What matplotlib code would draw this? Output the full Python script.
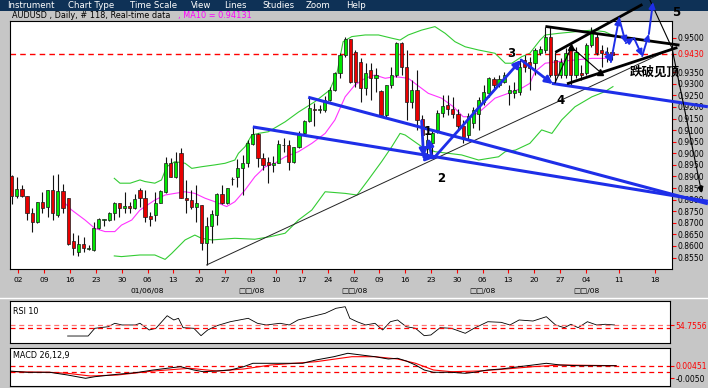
import matplotlib
matplotlib.use("Agg")
import matplotlib.pyplot as plt
import matplotlib.transforms as mtransforms
from matplotlib.patches import Rectangle
from matplotlib.lines import Line2D
import numpy as np

plt.rcParams['font.family'] = ['DejaVu Sans', 'Noto Sans CJK SC']

W, H = 708, 388

# ---------------- daily candles (AUDUSD) ----------------
opens = [0.8902, 0.8816, 0.8845, 0.8816, 0.8741, 0.8705, 0.8789, 0.8770, 0.8842, 0.8734,
         0.8837, 0.8806, 0.8623, 0.8575, 0.8608, 0.8588, 0.8583, 0.8676, 0.8712, 0.8712,
         0.8744, 0.8787, 0.8763, 0.8773, 0.8763, 0.8842, 0.8806, 0.8729, 0.8734, 0.8787,
         0.8834, 0.8957, 0.8899, 0.9000, 0.8808, 0.8798, 0.8767, 0.8777, 0.8614, 0.8686,
         0.8734, 0.8824, 0.8784, 0.8887, 0.8896, 0.8935, 0.8960, 0.9040, 0.9083, 0.8979,
         0.8964, 0.8950, 0.8960, 0.9036, 0.9036, 0.8964, 0.9026, 0.9086, 0.9140, 0.9190,
         0.9189, 0.9187, 0.9230, 0.9273, 0.9346, 0.9425, 0.9492, 0.9439, 0.9396, 0.9281,
         0.9360, 0.9324, 0.9269, 0.9165, 0.9295, 0.9338, 0.9475, 0.9374, 0.9223, 0.9273,
         0.9147, 0.9022, 0.9043, 0.9101, 0.9175, 0.9209, 0.9190, 0.9170, 0.9118, 0.9079,
         0.9130, 0.9170, 0.9223, 0.9262, 0.9320, 0.9295, 0.9309, 0.9262, 0.9262, 0.9266,
         0.9403, 0.9394, 0.9390, 0.9433, 0.9446, 0.9502, 0.9403, 0.9338, 0.9338, 0.9459,
         0.9338, 0.9347, 0.9347, 0.9468, 0.9502, 0.9446, 0.9433, 0.9438]
highs = [0.8906, 0.8896, 0.8863, 0.8816, 0.8763, 0.8791, 0.8832, 0.8842, 0.8906, 0.8911,
         0.8868, 0.8806, 0.8655, 0.8647, 0.8640, 0.8604, 0.8705, 0.8719, 0.8718, 0.8748,
         0.8791, 0.8787, 0.8832, 0.8791, 0.8823, 0.8849, 0.8842, 0.8748, 0.8834, 0.8842,
         0.8985, 0.8979, 0.9007, 0.9024, 0.8885, 0.8842, 0.8863, 0.8777, 0.8726, 0.8755,
         0.8827, 0.8863, 0.8850, 0.8899, 0.8974, 0.8993, 0.9058, 0.9115, 0.9089, 0.9003,
         0.8985, 0.8988, 0.9058, 0.9065, 0.9058, 0.9027, 0.9096, 0.9144, 0.9242, 0.9219,
         0.9209, 0.9248, 0.9288, 0.9352, 0.9432, 0.9504, 0.9495, 0.9446, 0.9410, 0.9389,
         0.9389, 0.9367, 0.9273, 0.9295, 0.9374, 0.9482, 0.9482, 0.9446, 0.9317, 0.9360,
         0.9165, 0.9088, 0.9101, 0.9187, 0.9252, 0.9252, 0.9244, 0.9190, 0.9144, 0.9173,
         0.9201, 0.9244, 0.9295, 0.9328, 0.9328, 0.9338, 0.9352, 0.9295, 0.9309, 0.9403,
         0.9425, 0.9416, 0.9455, 0.9463, 0.9545, 0.9545, 0.9438, 0.9412, 0.9455, 0.9476,
         0.9459, 0.9381, 0.9476, 0.9545, 0.9520, 0.9468, 0.9459, 0.9446]
lows = [0.8780, 0.8808, 0.8813, 0.8712, 0.8662, 0.8700, 0.8741, 0.8726, 0.8712, 0.8726,
        0.8741, 0.8604, 0.8561, 0.8557, 0.8575, 0.8583, 0.8580, 0.8673, 0.8688, 0.8708,
        0.8712, 0.8726, 0.8741, 0.8741, 0.8760, 0.8770, 0.8705, 0.8686, 0.8709, 0.8784,
        0.8830, 0.8898, 0.8892, 0.8807, 0.8744, 0.8758, 0.8705, 0.8583, 0.8518, 0.8614,
        0.8690, 0.8781, 0.8781, 0.8863, 0.8856, 0.8820, 0.8942, 0.9036, 0.8942, 0.8928,
        0.8871, 0.8921, 0.8957, 0.9007, 0.8928, 0.8960, 0.9022, 0.9079, 0.9136, 0.9118,
        0.9174, 0.9180, 0.9227, 0.9270, 0.9324, 0.9417, 0.9302, 0.9288, 0.9223, 0.9252,
        0.9230, 0.9266, 0.9158, 0.9158, 0.9281, 0.9331, 0.9338, 0.9144, 0.9194, 0.9101,
        0.9014, 0.8984, 0.8980, 0.9088, 0.9158, 0.9165, 0.9151, 0.9101, 0.9043, 0.9058,
        0.9108, 0.9101, 0.9209, 0.9244, 0.9281, 0.9288, 0.9302, 0.9209, 0.9238, 0.9252,
        0.9351, 0.9273, 0.9338, 0.9425, 0.9433, 0.9330, 0.9304, 0.9325, 0.9325, 0.9295,
        0.9325, 0.9317, 0.9338, 0.9459, 0.9425, 0.9373, 0.9394, 0.9403]
closes = [0.8817, 0.8845, 0.8816, 0.8741, 0.8705, 0.8789, 0.8763, 0.8842, 0.8741, 0.8837,
          0.8763, 0.8608, 0.8590, 0.8608, 0.8592, 0.8592, 0.8676, 0.8715, 0.8716, 0.8744,
          0.8787, 0.8763, 0.8773, 0.8763, 0.8803, 0.8806, 0.8726, 0.8716, 0.8787, 0.8837,
          0.8957, 0.8899, 0.8964, 0.8808, 0.8798, 0.8767, 0.8787, 0.8614, 0.8686, 0.8738,
          0.8824, 0.8784, 0.8849, 0.8888, 0.8935, 0.8960, 0.9046, 0.9082, 0.8979, 0.8950,
          0.8950, 0.8960, 0.9039, 0.9034, 0.8964, 0.9026, 0.9079, 0.9140, 0.9194, 0.9189,
          0.9191, 0.9230, 0.9273, 0.9346, 0.9425, 0.9492, 0.9309, 0.9309, 0.9281, 0.9346,
          0.9324, 0.9338, 0.9165, 0.9295, 0.9338, 0.9475, 0.9374, 0.9223, 0.9273, 0.9144,
          0.9079, 0.9058, 0.9088, 0.9175, 0.9204, 0.9190, 0.9170, 0.9118, 0.9072, 0.9161,
          0.9187, 0.9230, 0.9266, 0.9324, 0.9295, 0.9320, 0.9338, 0.9273, 0.9273, 0.9374,
          0.9373, 0.9367, 0.9446, 0.9450, 0.9502, 0.9338, 0.9338, 0.9394, 0.9433, 0.9338,
          0.9438, 0.9338, 0.9468, 0.9520, 0.9433, 0.9433, 0.9438, 0.9425]

# ---------------- overlay indicators (bar position, value) ----
ma10_x = [10.1, 11.7, 14.3, 16.2, 18.2, 20.1, 21.4, 23.4, 25.0, 26.0, 27.9, 29.9, 31.8, 33.8,
          35.7, 37.7, 39.6, 41.9, 43.5, 45.5, 47.4, 49.4, 51.3, 53.3, 55.9, 58.5, 61.1, 63.0,
          65.0, 66.9, 68.9, 70.8, 72.8, 74.7, 77.3, 78.6, 81.2, 83.8, 86.1, 88.0, 89.7, 91.6,
          94.2, 96.8, 99.4, 101.0, 102.0, 104.0, 106.6, 109.8, 113.1, 115.6, 117.0]
ma10_y = [0.8791, 0.8755, 0.8712, 0.8676, 0.8662, 0.8662, 0.8690, 0.8712, 0.8755, 0.8770,
          0.8798, 0.8820, 0.8827, 0.8834, 0.8827, 0.8806, 0.8791, 0.8770, 0.8791, 0.8842,
          0.8899, 0.8942, 0.8957, 0.8985, 0.9007, 0.9043, 0.9086, 0.9144, 0.9244, 0.9295,
          0.9324, 0.9338, 0.9324, 0.9331, 0.9324, 0.9302, 0.9259, 0.9238, 0.9201, 0.9158,
          0.9158, 0.9187, 0.9238, 0.9259, 0.9281, 0.9302, 0.9352, 0.9389, 0.9396, 0.9403,
          0.9410, 0.9410, 0.9417]
bb_up_x = [20.0, 21.1, 23.1, 25.0, 26.0, 27.9, 29.2, 30.2, 31.8, 33.8, 35.1, 37.0, 39.6, 41.6,
           43.5, 44.2, 45.5, 46.8, 48.1, 50.0, 53.3, 55.9, 59.1, 62.0, 63.4, 64.6, 66.3, 68.9,
           71.5, 74.1, 75.7, 77.3, 79.9, 82.5, 84.5, 86.4, 88.4, 91.0, 94.2, 96.2, 97.5, 99.4,
           101.0, 103.0, 104.0, 106.6, 113.1, 115.6, 117.0]
bb_up_y = [0.8892, 0.8871, 0.8871, 0.8885, 0.8878, 0.8871, 0.8885, 0.8942, 0.8964, 0.8957,
           0.8935, 0.8942, 0.8950, 0.8957, 0.8971, 0.9000, 0.9029, 0.9079, 0.9086, 0.9093,
           0.9136, 0.9178, 0.9223, 0.9273, 0.9346, 0.9482, 0.9504, 0.9511, 0.9511, 0.9497,
           0.9489, 0.9511, 0.9532, 0.9547, 0.9518, 0.9482, 0.9460, 0.9446, 0.9432, 0.9389,
           0.9389, 0.9417, 0.9432, 0.9489, 0.9511, 0.9518, 0.9532, 0.9525, 0.9511]
bb_lo_x = [20.0, 21.4, 25.0, 27.9, 29.9, 31.2, 33.8, 35.7, 37.0, 39.0, 43.5, 47.4, 50.4, 53.3,
           55.9, 58.5, 61.1, 65.0, 67.3, 69.5, 72.1, 74.1, 75.7, 76.7, 79.9, 82.5, 87.7, 91.0,
           94.9, 96.2, 98.2, 101.0, 103.3, 105.3, 107.2, 109.8, 113.1, 115.6, 117.2]
bb_lo_y = [0.8557, 0.8554, 0.8561, 0.8561, 0.8542, 0.8568, 0.8626, 0.8647, 0.8633, 0.8626,
           0.8633, 0.8629, 0.8640, 0.8655, 0.8712, 0.8755, 0.8834, 0.8827, 0.8820, 0.8885,
           0.8964, 0.9029, 0.9086, 0.9079, 0.9029, 0.9007, 0.8993, 0.8971, 0.8985, 0.9007,
           0.9014, 0.9043, 0.9101, 0.9086, 0.9144, 0.9201, 0.9244, 0.9266, 0.9288]

# ---------------- RSI(10) ----------------
rsi_x = [10.9, 14.9, 16.2, 18.8, 20.1, 21.5, 24.1, 25.0, 26.8, 28.1, 30.3, 31.6, 32.5, 33.4,
         35.5, 36.9, 38.2, 40.0, 42.6, 46.1, 47.9, 49.6, 52.3, 54.1, 55.8, 58.4, 61.1, 63.2,
         65.0, 65.9, 67.3, 69.0, 70.8, 72.3, 73.8, 75.2, 76.9, 78.7, 80.4, 81.7, 83.5, 85.7,
         88.4, 90.1, 92.8, 95.4, 97.1, 98.9, 101.6, 104.2, 106.0, 107.7, 109.0, 110.4, 112.2,
         114.0, 115.7, 117.5]
rsi_y = [38.9, 38.9, 50.0, 52.3, 57.2, 54.8, 54.8, 57.2, 47.6, 50.0, 68.1, 62.0, 64.4, 50.9,
         50.0, 39.4, 47.6, 53.8, 59.5, 64.4, 57.2, 54.8, 57.2, 54.8, 62.0, 66.7, 71.6, 78.8,
         81.1, 64.4, 59.5, 54.8, 57.2, 47.6, 59.5, 62.0, 52.3, 50.0, 39.4, 40.4, 50.9, 50.0,
         42.8, 50.0, 59.5, 58.6, 54.8, 62.0, 60.5, 66.7, 54.8, 50.9, 55.8, 50.9, 59.5, 54.8,
         55.8, 54.8]
rsi_last = 54.7556
rsi_mid = 50.0

# ---------------- MACD(26,12,9) ----------------
macd_x = [-0.5, 3.0, 7.4, 10.9, 14.4, 16.2, 20.6, 24.1, 27.6, 31.2, 32.9, 35.5, 37.3, 40.0,
          42.6, 45.2, 47.0, 50.5, 54.1, 56.7, 59.3, 62.8, 65.5, 68.1, 70.8, 73.4, 75.2, 76.9,
          78.7, 80.4, 82.2, 85.7, 88.4, 90.1, 92.8, 95.4, 98.9, 101.6, 104.2, 106.9, 110.4,
          113.9, 117.8]
macd_y = [0.00041, -0.00059, -0.00059, -0.00268, -0.00523, -0.00399, -0.00214, -0.00090,
          0.00119, 0.00296, 0.00374, 0.00119, -0.00013, 0.00041, 0.00119, 0.00374, 0.00637,
          0.00637, 0.00637, 0.00637, 0.00892, 0.01147, 0.01410, 0.01278, 0.01147, 0.00969,
          0.01023, 0.00814, 0.00505, 0.00119, -0.00059, -0.00059, -0.00136, -0.00059, 0.00119,
          0.00196, 0.00374, 0.00505, 0.00637, 0.00505, 0.00451, 0.00451, 0.00451]
signal_x = [-0.5, 7.4, 10.9, 15.3, 20.6, 27.6, 34.7, 40.0, 45.2, 50.5, 59.3, 66.3, 70.8, 75.2,
            78.7, 82.2, 85.7, 91.0, 96.3, 101.6, 106.9, 117.8]
signal_y = [-0.00013, -0.00059, -0.00136, -0.00345, -0.00268, 0.00041, 0.00250, 0.00041,
            0.00196, 0.00505, 0.00760, 0.01147, 0.01147, 0.00969, 0.00637, 0.00119, -0.00013,
            0.00041, 0.00196, 0.00374, 0.00505, 0.00451]
macd_last = 0.00451
macd_low_tick = -0.0050

# ---------------- axis labels ----------------
day_tick_pos = [1.29, 6.35, 11.42, 16.49, 21.56, 26.51, 31.5, 36.57, 41.64, 46.65, 51.58, 56.65,
                61.72, 66.73, 71.66, 76.67, 81.79, 86.86, 91.81, 96.8, 101.87, 106.94, 112.0,
                118.44, 125.46]
day_tick_labels = ['02', '09', '16', '23', '30', '06', '13', '20', '27', '03', '10', '17', '24',
                   '02', '09', '16', '23', '30', '06', '13', '20', '27', '04', '11', '18']
month_pos = [26.51, 46.65, 66.73, 91.81, 112.0]
month_labels = ['01/06/08', '\u25a1\u25a1/08', '\u25a1\u25a1/08', '\u25a1\u25a1/08', '\u25a1\u25a1/08']
price_ticks = [0.855, 0.86, 0.865, 0.87, 0.875, 0.88, 0.885, 0.89, 0.895, 0.90, 0.905, 0.91,
               0.915, 0.92, 0.925, 0.93, 0.935, 0.943, 0.95]
ref_level = 0.943
ma10_last = 0.94131

# ---------------- hand-drawn annotations (bar position, price) ----------------
trend_a_x = [57.8, 135.7]; trend_a_y = [0.9242, 0.8782]
trend_b_x = [47.0, 135.7]; trend_b_y = [0.9114, 0.8793]
trend_c_x = [105.3, 135.7]; trend_c_y = [0.9302, 0.9201]
support_x = [38.0, 128.7]; support_y = [0.8518, 0.9452]
wedge_top_x = [104.3, 129.9]; wedge_top_y = [0.9547, 0.9468]
wedge_low_x = [108.5, 129.5]; wedge_low_y = [0.9302, 0.9455]
wedge_rise_x = [106.2, 122.7]; wedge_rise_y = [0.9439, 0.9640]
wave_x = [79.9, 80.3, 82.3, 99.3, 105.5]
wave_y = [0.9140, 0.8985, 0.8980, 0.9403, 0.9299]
zig_x = [115.9, 116.8, 118.4, 119.7, 121.3, 122.9, 124.2, 125.0]
zig_y = [0.9437, 0.9394, 0.9584, 0.9476, 0.9498, 0.9420, 0.9515, 0.9653]
bzig_x = [105.9, 109.1, 114.7]
bzig_y = [0.9304, 0.9459, 0.9351]
proj_x = [124.4, 128.7, 134.5]
proj_y = [0.9662, 0.9455, 0.8829]
wave_labels = ['1', '2', '3', '4', '5']
wave_lx = [81.1, 83.7, 97.3, 106.9, 129.5]
wave_ly = [0.9096, 0.8893, 0.9433, 0.9230, 0.9606]
break_text = '跌破见顶'
break_x, break_y = 125.4, 0.9351

# =====================================================================
BG = '#c6c6c6'
BLUE = '#1e2ee8'
fig = plt.figure(figsize=(W / 100, H / 100), dpi=100, facecolor=BG)


def rect(x0, y0, x1, y1):
    return [x0 / W, 1 - y1 / H, (x1 - x0) / W, (y1 - y0) / H]


# menu bar
fig.add_artist(Rectangle((0, 1 - 10.5 / H), 1, 10.5 / H, transform=fig.transFigure,
                         facecolor='#0e3156', edgecolor='none', zorder=0.5))
menu = [('Instrument', 7), ('Chart Type', 68), ('Time Scale', 130), ('View', 190.5),
        ('Lines', 224), ('Studies', 262), ('Zoom', 306), ('Help', 346)]
for label, px in menu:
    fig.text(px / W, 1 - 5.5 / H, label, color='white', fontsize=6.2, va='center',
             ha='left', zorder=3)
fig.text(12 / W, 1 - 15.5 / H, 'AUDUSD , Daily, # 118, Real-time data', fontsize=5.9,
         color='black', va='center', ha='left', zorder=3)
fig.text(178 / W, 1 - 15.5 / H, f', MA10 = {ma10_last:.5f}', fontsize=5.9,
         color='#ff00ff', va='center', ha='left', zorder=3)
fig.add_artist(Line2D([0, 1], [1 - 298 / H] * 2, transform=fig.transFigure,
                      color='white', lw=1, zorder=0.5))

# ---------------- main price panel ----------------
ax = fig.add_axes(rect(10, 21, 672, 269))
ax.set_zorder(2)
ax.set_facecolor('white')
ax.set_xlim(-0.33, 128.71)
ax.set_ylim(0.85005, 0.95713)

o = np.array(opens); h = np.array(highs); l = np.array(lows); c = np.array(closes)
idx = np.arange(len(o))
up = c >= o
ax.vlines(idx, l, h, color='#111111', lw=0.8, zorder=3)
bot = np.minimum(o, c)
hgt = np.maximum(np.abs(c - o), 0.0003)
ax.bar(idx[up], hgt[up], bottom=bot[up], width=0.62, color='#00e800',
       edgecolor='#1a1a1a', lw=0.5, zorder=4)
ax.bar(idx[~up], hgt[~up], bottom=bot[~up], width=0.62, color='#e80000',
       edgecolor='#1a1a1a', lw=0.5, zorder=4)

ax.plot(bb_up_x, bb_up_y, color='#33cc33', lw=0.8, zorder=2)
ax.plot(bb_lo_x, bb_lo_y, color='#33cc33', lw=0.8, zorder=2)
ax.plot(ma10_x, ma10_y, color='#ff33ff', lw=0.8, zorder=2)
ax.axhline(ref_level, color='red', lw=1, dashes=(4, 3), zorder=2)

# annotations
ax.plot(support_x, support_y, color='#222222', lw=0.7, zorder=5, clip_on=False)
for xs, ys in [(trend_a_x, trend_a_y), (trend_b_x, trend_b_y), (trend_c_x, trend_c_y)]:
    ax.plot(xs, ys, color=BLUE, lw=2.2, zorder=6, clip_on=False, solid_capstyle='butt')
for xs, ys in [(wedge_top_x, wedge_top_y), (wedge_low_x, wedge_low_y),
               (wedge_rise_x, wedge_rise_y)]:
    ax.plot(xs, ys, color='black', lw=2.0, zorder=6, clip_on=False)


def arrow(x0, y0, x1, y1, color, lw, ms):
    ax.annotate('', xy=(x1, y1), xytext=(x0, y0), zorder=7, annotation_clip=False,
                arrowprops=dict(arrowstyle='-|>', color=color, lw=lw, mutation_scale=ms,
                                shrinkA=0, shrinkB=0))


for i in range(len(wave_x) - 1):
    arrow(wave_x[i], wave_y[i], wave_x[i + 1], wave_y[i + 1], BLUE, 2.0, 11)
arrow(81.9, 0.8980, 81.2, 0.9066, BLUE, 2.0, 11)
for i in range(len(zig_x) - 1):
    arrow(zig_x[i], zig_y[i], zig_x[i + 1], zig_y[i + 1], BLUE, 1.4, 9)
ax.plot(bzig_x, bzig_y, color='black', lw=0.8, zorder=6)
ax.plot(bzig_x[1:2], bzig_y[1:2], marker='^', color='black', ms=5, zorder=7)
ax.plot(bzig_x[2:3], bzig_y[2:3], marker='^', color='black', ms=5, zorder=7)
ax.plot(proj_x[:2], proj_y[:2], color='black', lw=0.8, zorder=6, clip_on=False)
arrow(proj_x[1], proj_y[1], proj_x[2], proj_y[2], 'black', 0.8, 9)

for t, x, y in zip(wave_labels, wave_lx, wave_ly):
    ax.text(x, y, t, fontsize=8.5, fontweight='bold', ha='center', va='center',
            color='black', zorder=8, clip_on=False)
ax.text(break_x, break_y, break_text, fontsize=9, fontweight='bold', ha='center',
        va='center', color='black', family=['Noto Sans CJK SC', 'DejaVu Sans'], zorder=8,
        clip_on=False)

# axes decoration
ax.yaxis.tick_right()
ax.set_yticks(price_ticks)
ax.set_yticklabels([f'{v:.4f}' for v in price_ticks])
for lbl, v in zip(ax.get_yticklabels(), price_ticks):
    if abs(v - ref_level) < 1e-9:
        lbl.set_color('red')
ax.tick_params(axis='y', direction='out', length=3, width=0.8, color='red', labelsize=5.5,
               pad=1)
ax.set_xticks(day_tick_pos)
ax.set_xticklabels(day_tick_labels)
ax.tick_params(axis='x', direction='out', length=3, width=0.8, color='red', labelsize=5.4,
               pad=3)
trans = mtransforms.blended_transform_factory(ax.transData, ax.transAxes)
for x, t in zip(month_pos, month_labels):
    ax.text(x, -0.089, t, transform=trans, ha='center', va='center', fontsize=5.4)
for s in ax.spines.values():
    s.set_color('black'); s.set_linewidth(0.8)

# ---------------- RSI panel ----------------
ar = fig.add_axes(rect(10, 301, 670, 343))
ar.set_facecolor('white')
ar.set_xlim(-0.33, 128.3)
ar.set_ylim(28.84, 89.32)
ar.plot(rsi_x, rsi_y, color='black', lw=0.6)
ar.axhline(rsi_last, color='#ff7070', lw=0.9, dashes=(4, 3))
ar.axhline(rsi_mid, color='red', lw=0.9, dashes=(4, 3))
ar.set_xticks([])
ar.yaxis.tick_right()
ar.set_yticks([rsi_last])
ar.set_yticklabels([f'{rsi_last:.4f}'])
ar.get_yticklabels()[0].set_color('red')
ar.tick_params(axis='y', length=3, color='red', labelsize=5.5, pad=1)
ar.text(0.005, 0.76, 'RSI 10', transform=ar.transAxes, fontsize=5.8, va='center')
for s in ar.spines.values():
    s.set_color('black'); s.set_linewidth(0.8)

# ---------------- MACD panel ----------------
am = fig.add_axes(rect(10, 348, 670, 386))
am.set_facecolor('white')
am.set_xlim(-0.33, 128.3)
am.set_ylim(-0.01118, 0.01819)
am.axhline(macd_last, color='red', lw=0.9, dashes=(4, 3))
am.axhline(0, color='red', lw=0.9, dashes=(4, 3))
am.plot(signal_x, signal_y, color='red', lw=0.8)
am.plot(macd_x, macd_y, color='black', lw=0.7)
am.set_xticks([])
am.yaxis.tick_right()
am.set_yticks([macd_last, macd_low_tick])
am.set_yticklabels([f'{macd_last:.5f}', f'{macd_low_tick:.4f}'])
am.get_yticklabels()[0].set_color('red')
am.tick_params(axis='y', length=3, color='red', labelsize=5.5, pad=1)
am.text(0.005, 0.8, 'MACD 26,12,9', transform=am.transAxes, fontsize=5.8, va='center')
for s in am.spines.values():
    s.set_color('black'); s.set_linewidth(0.8)

fig.savefig('out.png', dpi=100, facecolor=BG)
